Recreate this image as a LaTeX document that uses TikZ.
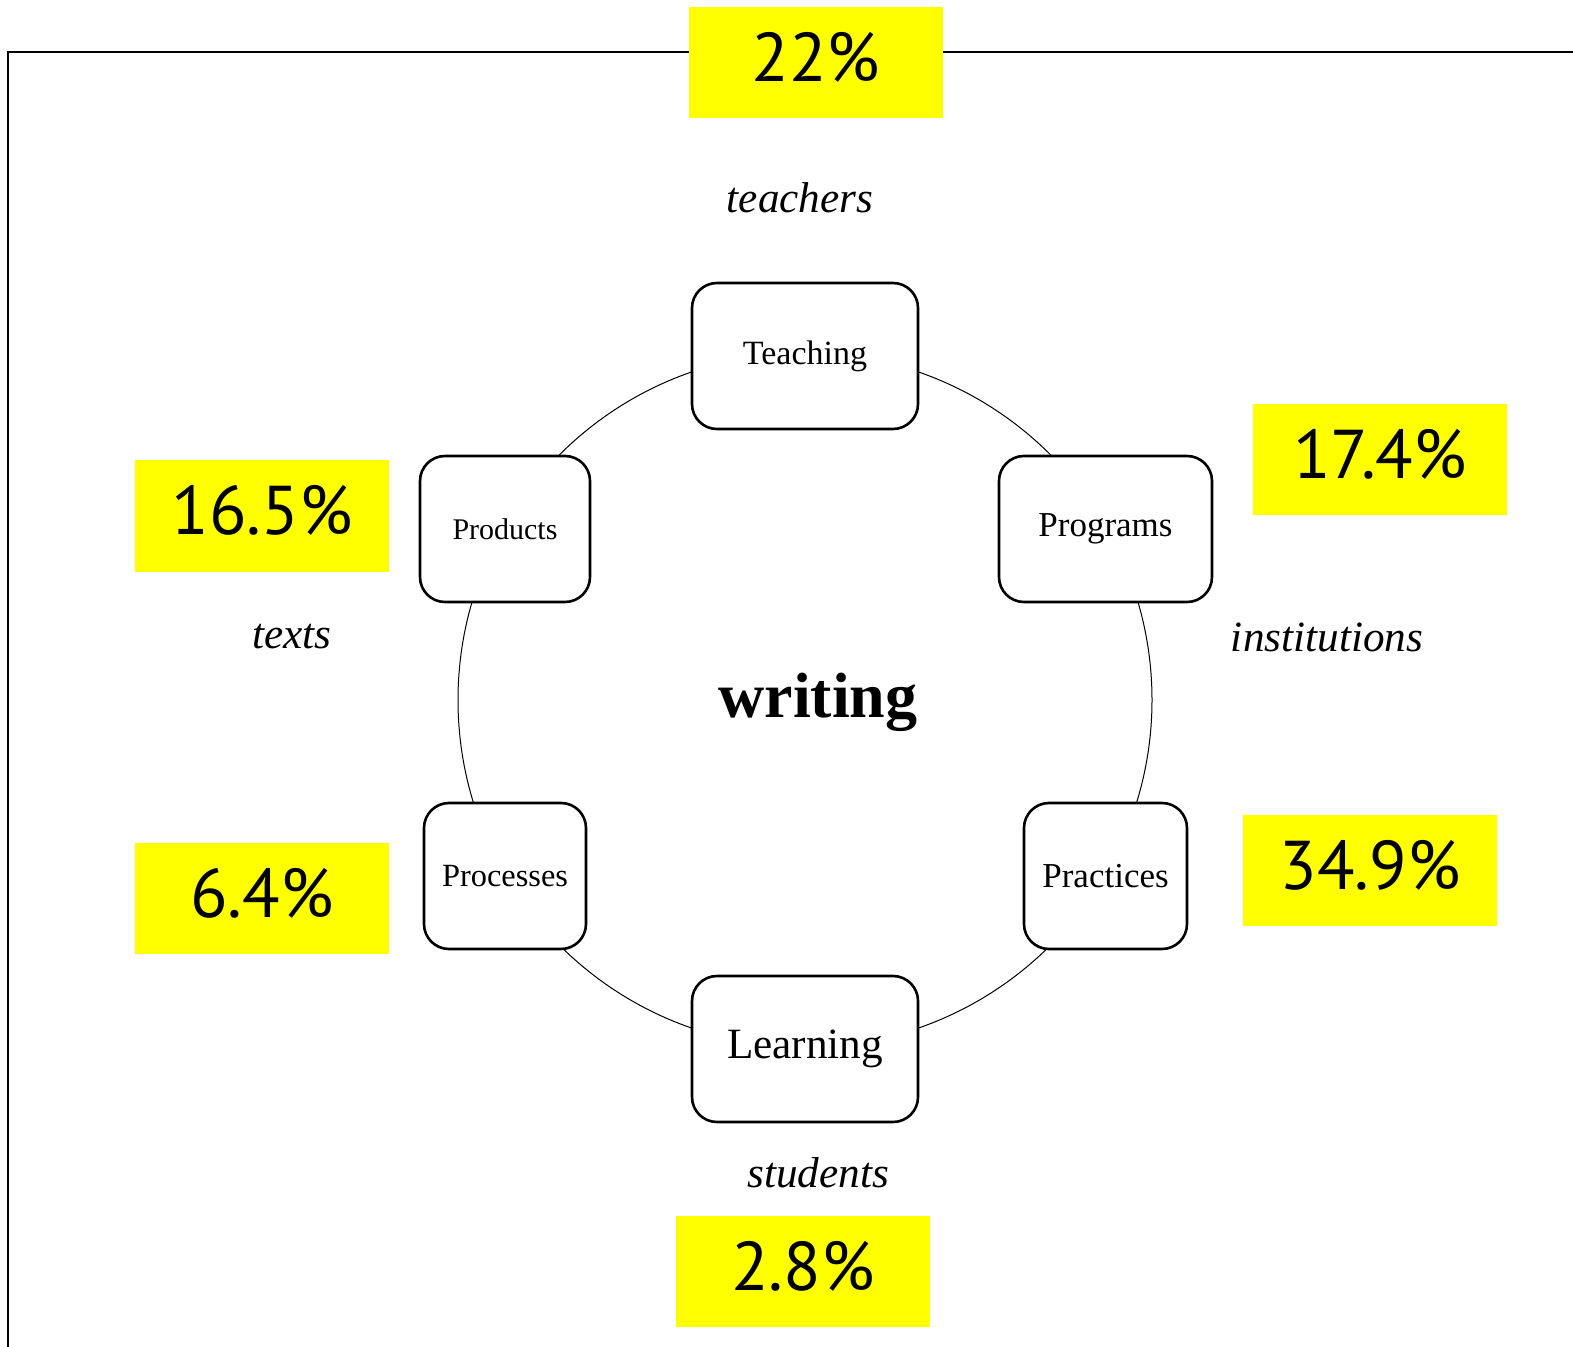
\documentclass[tikz,border=0pt]{standalone}
\usepackage{fontspec}
\setmainfont{Liberation Serif}
\newfontfamily\pctfont{PT Sans}
\definecolor{hilite}{RGB}{255,255,0}
\usetikzlibrary{positioning}

\begin{document}
\begin{tikzpicture}[x=0.5pt,y=-0.5pt,
  topic/.style={draw,line width=1.3pt,rounded corners=12.5pt,fill=white,minimum height=73pt,inner sep=0pt},
  share/.style={fill=hilite,minimum width=127pt,minimum height=55.5pt,inner sep=0pt,text height=24pt,text depth=5pt,font=\pctfont\fontsize{34.5}{38}\selectfont},
  actor/.style={font=\itshape\fontsize{21.6}{24}\selectfont}]
\useasboundingbox (0,0) rectangle (1573,1347);
% frame
\coordinate (fbl) at (8,1347);
\coordinate (ftl) at (8,52);
\coordinate (ftr) at (1573,52);
\draw[line width=1pt] (fbl)--(ftl)--(ftr);
% ring and centre
\node[circle,draw,line width=0.5pt,minimum size=347pt,inner sep=0pt] (ring) at (805,700) {};
\node[font=\bfseries\fontsize{32}{34}\selectfont] (writing) at (818,702) {writing};
% the six areas
\node[topic,minimum width=113pt,font=\fontsize{17}{19}\selectfont] (teaching) at (805,356) {Teaching};
\node[topic,minimum width=85pt,font=\fontsize{15}{17}\selectfont] (products) at (505,529) {Products};
\node[topic,minimum width=106.5pt,font=\fontsize{17.5}{20}\selectfont] (programs) at (1105.5,529) {Programs};
\node[topic,minimum width=81pt,font=\fontsize{16.2}{18}\selectfont] (processes) at (505,876) {Processes};
\node[topic,minimum width=81.5pt,font=\fontsize{17.5}{20}\selectfont] (practices) at (1105.5,876) {Practices};
\node[topic,minimum width=113pt,font=\fontsize{21.6}{24}\selectfont] (learning) at (805,1049) {Learning};
% actors
\node[actor] (teachers) at (800,198) {teachers};
\node[actor] (texts) at (292,637) {texts};
\node[actor] (institutions) at (1327,637) {institutions};
\node[actor] (students) at (818,1173) {students};
% shares
\node[share] (pteaching) at (816,63) {22\%};
\node[share] (pprograms) at (1380,460) {17.4\%};
\node[share] (pproducts) at (262,516) {16.5\%};
\node[share] (ppractices) at (1370,870) {34.9\%};
\node[share] (pprocesses) at (262,898) {6.4\%};
\node[share] (plearning) at (803,1271) {2.8\%};
\end{tikzpicture}
\end{document}
